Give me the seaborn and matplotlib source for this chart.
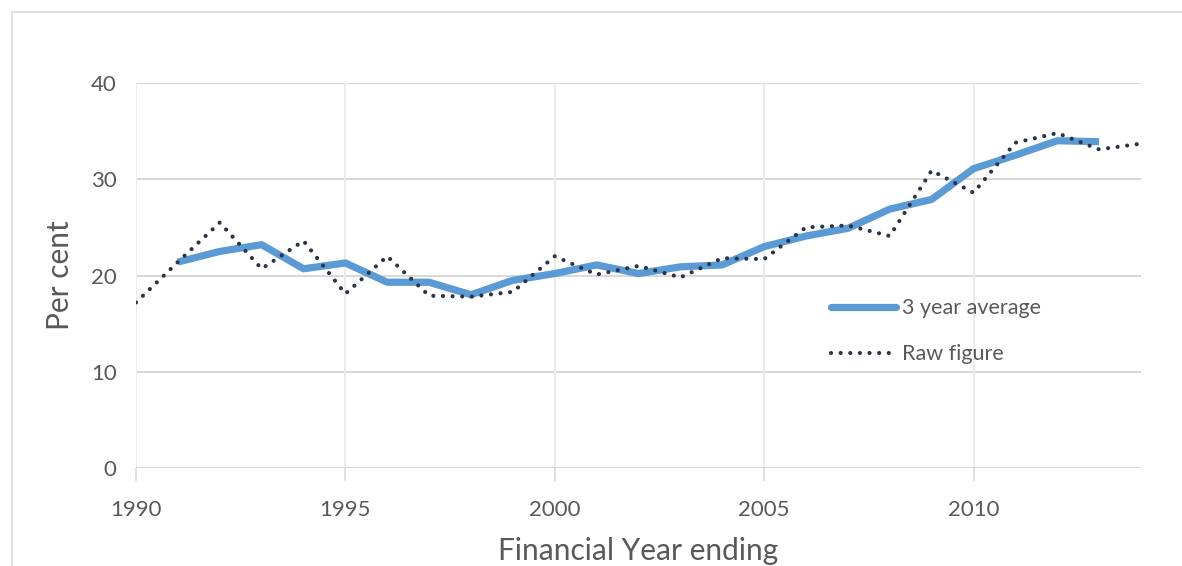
import matplotlib
matplotlib.use('Agg')
import matplotlib.pyplot as plt
import seaborn as sns
import pandas as pd
from matplotlib.patches import Rectangle
from matplotlib.lines import Line2D

sns.set_theme(style="whitegrid")
plt.rcParams['font.family'] = ['Lato', 'DejaVu Sans']

years_raw = list(range(1990, 2015))
raw_figure = [17.2, 21.4, 25.5, 20.7, 23.6, 18.1, 22.0, 17.9, 17.8, 18.3,
              22.0, 20.1, 21.0, 19.8, 21.8, 21.7, 25.0, 25.2, 24.1, 30.9,
              28.6, 33.8, 34.8, 33.1, 33.7]

years_avg = list(range(1991, 2014))
three_year_avg = [21.4, 22.5, 23.2, 20.7, 21.3, 19.3, 19.3, 18.0, 19.5, 20.2,
                  21.1, 20.2, 20.9, 21.1, 23.0, 24.1, 24.9, 26.9, 27.9, 31.1,
                  32.5, 34.0, 33.9]

raw_df = pd.DataFrame({"year": years_raw, "value": raw_figure})
avg_df = pd.DataFrame({"year": years_avg, "value": three_year_avg})

blue = "#5B9BD5"
navy = "#2B3346"
gray_text = "#595959"

fig = plt.figure(figsize=(11.82, 5.66), dpi=100)
ax = fig.add_axes([136 / 1182, 1 - 468 / 566, (1141 - 136) / 1182, (468 - 83) / 566])

sns.lineplot(data=avg_df, x="year", y="value", ax=ax, color=blue, linewidth=5.2,
             solid_capstyle="butt", solid_joinstyle="round", zorder=3)
sns.lineplot(data=raw_df, x="year", y="value", ax=ax, color=navy, linewidth=3,
             linestyle=(0, (0.01, 2.3)), dash_capstyle="round", zorder=4)

ax.set_xlim(1990, 2014)
ax.set_ylim(0, 40)
ax.set_xticks([1990, 1995, 2000, 2005, 2010])
ax.set_yticks([0, 10, 20, 30, 40])

ax.grid(False)
for v in [10, 20, 30, 40]:
    ax.axhline(v, color="#D9D9D9", linewidth=1.5, zorder=1)
for yr in [1990, 1995, 2000, 2005, 2010]:
    ax.axvline(yr, color="#ECECEC", linewidth=1.5, zorder=1)
ax.axhline(0, color="#D9D9D9", linewidth=1.5, zorder=2)

for s in ax.spines.values():
    s.set_visible(False)

ax.tick_params(axis="x", length=9, width=1.2, color="#D9D9D9", labelsize=16,
               labelcolor=gray_text, pad=14, direction="out", bottom=True)
ax.tick_params(axis="y", length=0, labelsize=16, labelcolor=gray_text, pad=14)

ax.set_xlabel("Financial Year ending", fontsize=21.5, color=gray_text, labelpad=12)
ax.set_ylabel("Per cent", fontsize=21.5, color=gray_text, labelpad=12)

handles = [Line2D([], [], color=blue, linewidth=5.2, solid_capstyle="round"),
           Line2D([], [], color=navy, linewidth=3, linestyle=(0, (0.01, 2.3)),
                  dash_capstyle="round")]
ax.legend(handles, ["3 year average", "Raw figure"], loc="upper left",
          bbox_to_anchor=((812 - 136) / 1005, (468 - 279) / 385), frameon=False,
          fontsize=15.5, labelcolor=gray_text, handlelength=3.0, handletextpad=0.3,
          labelspacing=1.2)

fig.patches.append(Rectangle((12 / 1182, -0.1), 1.2, 1 - 12 / 566 + 0.1,
                             transform=fig.transFigure, fill=False,
                             edgecolor="#D9D9D9", linewidth=1.2))

fig.savefig("out.png", dpi=100, facecolor="white")
